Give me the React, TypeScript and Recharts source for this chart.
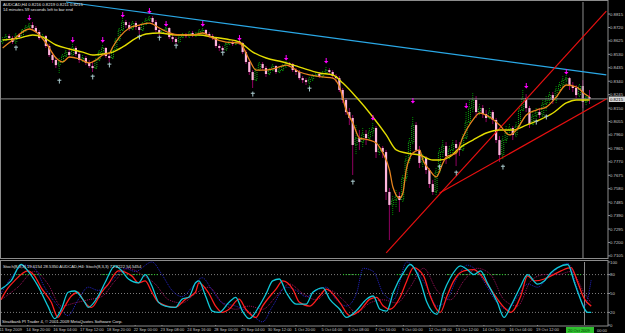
import { ComposedChart, Bar, Line, XAxis, YAxis, ReferenceLine } from "recharts";

const SLOTS = 182;
const FONT = "Liberation Sans, Arial, sans-serif";

// AUDCAD H4 candles, [open, high, low, close] in pips (x 0.0001)
const candles: number[][] = [
  [8617, 8652, 8603, 8631], [8631, 8674, 8624, 8659], [8659, 8674, 8631, 8645], [8645, 8659, 8603, 8617],
  [8617, 8681, 8603, 8667], [8667, 8681, 8638, 8652], [8652, 8709, 8645, 8702], [8702, 8737, 8688, 8723],
  [8723, 8751, 8709, 8737], [8737, 8758, 8702, 8716], [8716, 8730, 8681, 8688], [8688, 8702, 8631, 8645],
  [8645, 8674, 8631, 8659], [8659, 8667, 8575, 8589], [8589, 8603, 8511, 8525], [8525, 8546, 8469, 8490],
  [8490, 8511, 8433, 8454], [8454, 8504, 8391, 8476], [8476, 8532, 8462, 8518], [8518, 8560, 8504, 8546],
  [8546, 8575, 8504, 8525], [8525, 8603, 8518, 8575], [8575, 8589, 8518, 8532], [8532, 8546, 8469, 8490],
  [8490, 8525, 8476, 8504], [8504, 8518, 8454, 8469], [8469, 8490, 8433, 8447], [8447, 8476, 8405, 8433],
  [8433, 8504, 8419, 8490], [8490, 8560, 8476, 8546], [8546, 8596, 8532, 8575], [8575, 8582, 8504, 8518],
  [8518, 8532, 8476, 8504], [8504, 8575, 8490, 8560], [8560, 8645, 8546, 8631], [8631, 8716, 8617, 8702],
  [8702, 8787, 8688, 8758], [8758, 8773, 8716, 8737], [8737, 8758, 8695, 8709], [8709, 8765, 8695, 8751],
  [8751, 8765, 8702, 8723], [8723, 8737, 8674, 8702], [8702, 8758, 8695, 8744], [8744, 8787, 8730, 8773],
  [8773, 8801, 8758, 8787], [8787, 8801, 8744, 8758], [8758, 8773, 8688, 8702], [8702, 8716, 8659, 8681],
  [8681, 8709, 8667, 8702], [8702, 8723, 8688, 8716], [8716, 8723, 8638, 8652], [8652, 8667, 8617, 8638],
  [8638, 8652, 8603, 8617], [8617, 8667, 8610, 8652], [8652, 8681, 8638, 8667], [8667, 8681, 8645, 8659],
  [8659, 8695, 8645, 8681], [8681, 8695, 8652, 8667], [8667, 8688, 8652, 8674], [8674, 8709, 8659, 8695],
  [8695, 8716, 8681, 8702], [8702, 8709, 8659, 8674], [8674, 8688, 8645, 8659], [8659, 8674, 8631, 8645],
  [8645, 8652, 8575, 8589], [8589, 8603, 8553, 8575], [8575, 8589, 8553, 8560], [8560, 8610, 8553, 8603],
  [8603, 8631, 8589, 8617], [8617, 8631, 8589, 8603], [8603, 8631, 8589, 8624], [8624, 8631, 8596, 8610],
  [8610, 8617, 8532, 8546], [8546, 8560, 8462, 8476], [8476, 8490, 8384, 8405], [8405, 8419, 8292, 8348],
  [8348, 8433, 8334, 8419], [8419, 8476, 8405, 8462], [8462, 8476, 8419, 8433], [8433, 8447, 8370, 8391],
  [8391, 8433, 8377, 8419], [8419, 8462, 8405, 8447], [8447, 8454, 8391, 8405], [8405, 8433, 8391, 8419],
  [8419, 8462, 8405, 8447], [8447, 8483, 8433, 8469], [8469, 8476, 8440, 8462], [8462, 8469, 8405, 8419],
  [8419, 8433, 8384, 8405], [8405, 8419, 8348, 8362], [8362, 8377, 8327, 8348], [8348, 8362, 8313, 8334],
  [8334, 8370, 8306, 8355], [8355, 8391, 8341, 8377], [8377, 8405, 8362, 8391], [8391, 8405, 8362, 8377],
  [8377, 8412, 8362, 8398], [8398, 8440, 8384, 8419], [8419, 8433, 8391, 8405], [8405, 8419, 8362, 8377],
  [8377, 8391, 8334, 8362], [8362, 8377, 8264, 8278], [8278, 8292, 8186, 8207], [8207, 8221, 8101, 8122],
  [8122, 8150, 8030, 8080], [8080, 8101, 7677, 7889], [7889, 8030, 7818, 7938], [7938, 7995, 7854, 7910],
  [7910, 8009, 7868, 7967], [7967, 7995, 7889, 7938], [7938, 8009, 7910, 7981], [7981, 8044, 7952, 8009],
  [8009, 8023, 7797, 7839], [7839, 7896, 7811, 7868], [7868, 7882, 7797, 7839], [7839, 7854, 7500, 7557],
  [7557, 7585, 7217, 7465], [7465, 7528, 7394, 7500], [7500, 7571, 7443, 7528], [7528, 7557, 7415, 7500],
  [7500, 7677, 7479, 7656], [7656, 7811, 7627, 7783], [7783, 7938, 7755, 7910], [7910, 8087, 7889, 8030],
  [8030, 8051, 7839, 7854], [7854, 7882, 7726, 7762], [7762, 7825, 7726, 7797], [7797, 7811, 7684, 7712],
  [7712, 7726, 7585, 7613], [7613, 7642, 7536, 7557], [7557, 7726, 7528, 7698], [7698, 7868, 7684, 7839],
  [7839, 7924, 7797, 7882], [7882, 7910, 7755, 7811], [7811, 7882, 7783, 7854], [7854, 7924, 7825, 7896],
  [7896, 7924, 7740, 7868], [7868, 7910, 7811, 7854], [7854, 7967, 7839, 7938], [7938, 8122, 7924, 8051],
  [8051, 8207, 8037, 8150], [8150, 8256, 8122, 8207], [8207, 8235, 8080, 8122], [8122, 8179, 8094, 8150],
  [8150, 8172, 8080, 8108], [8108, 8136, 8051, 8080], [8080, 8150, 8066, 8122], [8122, 8136, 8037, 8066],
  [8066, 8080, 7903, 7924], [7924, 7952, 7769, 7818], [7818, 7952, 7783, 7924], [7924, 8023, 7896, 7995],
  [7995, 8037, 7952, 8009], [8009, 8023, 7924, 7960], [7960, 8051, 7938, 8023], [8023, 8165, 8009, 8136],
  [8136, 8278, 8122, 8221], [8221, 8249, 8122, 8150], [8150, 8165, 8009, 8037], [8037, 8122, 8023, 8094],
  [8094, 8150, 8066, 8122], [8122, 8150, 8080, 8101], [8101, 8207, 8087, 8179], [8179, 8235, 8122, 8207],
  [8207, 8264, 8186, 8242], [8242, 8264, 8179, 8207], [8207, 8306, 8186, 8278], [8278, 8334, 8256, 8313],
  [8313, 8377, 8292, 8348], [8348, 8384, 8320, 8362], [8362, 8370, 8278, 8306], [8306, 8334, 8264, 8292],
  [8292, 8313, 8221, 8242], [8242, 8320, 8221, 8306], [8306, 8348, 8150, 8193], [8193, 8249, 8165, 8228],
  [8228, 8278, 8179, 8215],
];

// moving averages read at sample bars: [bar, pips]
const fastMA = [
  [0, 8575], [3, 8631], [8, 8709], [10, 8688], [13, 8610], [16, 8504], [18, 8476], [20, 8511], [23, 8497],
  [26, 8469], [28, 8490], [30, 8525], [32, 8539], [33, 8582], [35, 8652], [38, 8716], [41, 8737], [44, 8751],
  [47, 8716], [50, 8681], [53, 8667], [57, 8667], [60, 8681], [63, 8645], [67, 8617], [71, 8610], [74, 8490],
  [76, 8419], [79, 8419], [82, 8433], [85, 8454], [89, 8405], [92, 8384], [96, 8370], [99, 8362], [101, 8299],
  [103, 8136], [105, 8044], [107, 7938], [110, 7924], [112, 7903], [114, 7832], [116, 7712], [117, 7592],
  [119, 7514], [120, 7550], [121, 7712], [123, 7832], [125, 7854], [126, 7783], [128, 7712], [130, 7663],
  [132, 7762], [133, 7804], [136, 7832], [138, 7945], [141, 8066], [143, 8115], [146, 8087], [149, 8030],
  [152, 7960], [154, 7995], [157, 8101], [160, 8136], [163, 8157], [166, 8228], [169, 8313], [172, 8299],
  [175, 8242], [176, 8228],
];
const slowMA = [
  [0, 8631], [5, 8645], [9, 8667], [12, 8652], [16, 8596], [20, 8568], [24, 8546], [27, 8525], [30, 8532],
  [33, 8546], [36, 8582], [40, 8645], [43, 8674], [47, 8681], [52, 8667], [59, 8667], [63, 8652], [67, 8638],
  [71, 8617], [75, 8546], [79, 8504], [84, 8476], [89, 8440], [95, 8398], [99, 8384], [102, 8327], [106, 8228],
  [111, 8087], [115, 7960], [118, 7854], [121, 7832], [125, 7818], [129, 7783], [131, 7783], [134, 7804],
  [137, 7868], [141, 7924], [145, 7974], [149, 7995], [153, 7995], [157, 8030], [161, 8066], [165, 8115],
  [169, 8186], [172, 8207], [176, 8207],
];

// fractals: [bar, pips]
const fractalUp = [
  [8, 8780], [21, 8624], [30, 8624], [36, 8801], [44, 8829], [49, 8737], [60, 8737], [71, 8638], [85, 8497],
  [97, 8476], [111, 8073], [123, 8193], [139, 8158], [157, 8299], [169, 8398],
];
const fractalDown = [
  [4, 8575], [17, 8341], [27, 8370], [32, 8455], [41, 8652], [47, 8645], [52, 8589], [66, 8539], [75, 8249],
  [92, 8285], [105, 7627], [131, 7733], [136, 7691], [150, 7733], [160, 8051], [163, 8087],
];

// trend lines: bar / price anchors
const trendLines = [
  { from: [19, 0.89], to: [181, 0.8385], color: "#2aa8e6" },
  { from: [115, 0.7126], to: [181, 0.8836], color: "#e81010" },
  { from: [131, 0.7549], to: [181, 0.8214], color: "#e81010" },
];
const bidPrice = 0.8215;
const cursorBar = 174;

const priceTicks = [
  0.7105, 0.72, 0.7295, 0.739, 0.7485, 0.758, 0.7675, 0.777, 0.7865, 0.796, 0.8055, 0.815, 0.8245, 0.834,
  0.8435, 0.853, 0.8625, 0.872, 0.8815,
];

// stochastic (%K cyan, %D red) and second stochastic (dotted)
const stochK = [
  [0, 57], [3, 70], [6, 96], [8, 86], [11, 62], [14, 30], [16, 10], [18, 25], [20, 52], [22, 54], [25, 36],
  [26, 28], [29, 46], [31, 67], [34, 94], [36, 86], [38, 73], [41, 67], [43, 80], [45, 62], [47, 36], [49, 30],
  [52, 28], [54, 41], [56, 44], [58, 67], [59, 70], [61, 46], [63, 22], [65, 20], [68, 36], [70, 44], [72, 22],
  [74, 10], [77, 30], [79, 49], [81, 70], [83, 73], [85, 52], [88, 33], [91, 33], [93, 52], [96, 59], [98, 41],
  [101, 25], [103, 12], [106, 23], [109, 41], [111, 46], [113, 25], [115, 22], [117, 52], [120, 83], [122, 96],
  [125, 70], [127, 36], [130, 17], [132, 52], [134, 75], [137, 94], [139, 88], [141, 80], [143, 86], [145, 67],
  [148, 36], [150, 12], [152, 30], [155, 62], [157, 80], [160, 65], [162, 70], [164, 83], [166, 91], [169, 96],
  [171, 67], [172, 52], [175, 20], [176, 20],
];
const stochD = [
  [0, 40], [2, 58], [4, 70], [8, 86], [10, 78], [12, 59], [15, 36], [17, 12], [18, 20], [21, 46], [23, 52],
  [24, 44], [26, 30], [27, 28], [30, 52], [32, 65], [35, 86], [39, 78], [41, 67], [43, 70], [45, 52], [47, 36],
  [52, 28], [55, 41], [58, 52], [59, 67], [62, 50], [64, 30], [66, 20], [68, 25], [71, 41], [73, 25], [76, 12],
  [78, 30], [82, 57], [84, 70], [87, 57], [89, 36], [92, 30], [95, 46], [97, 57], [101, 36], [104, 15],
  [107, 23], [110, 41], [112, 44], [114, 30], [116, 25], [119, 44], [121, 70], [123, 91], [126, 78], [128, 46],
  [131, 20], [133, 46], [135, 70], [138, 86], [141, 88], [143, 80], [146, 57], [150, 28], [152, 20], [155, 46],
  [157, 78], [159, 70], [162, 73], [164, 78], [167, 86], [170, 91], [172, 67], [174, 41], [176, 30],
];
const stoch2K = [
  [0, 50], [3, 75], [7, 95], [10, 90], [13, 60], [17, 30], [20, 15], [23, 40], [26, 60], [29, 55], [33, 70],
  [37, 90], [40, 85], [45, 100], [48, 80], [51, 55], [54, 45], [57, 60], [60, 75], [63, 55], [66, 35], [70, 30],
  [74, 20], [78, 5], [81, 30], [85, 60], [88, 55], [91, 45], [94, 55], [97, 60], [100, 40], [103, 30], [106, 50],
  [108, 90], [111, 85], [114, 50], [117, 40], [121, 100], [124, 85], [127, 60], [130, 30], [133, 40], [136, 75],
  [139, 95], [142, 85], [145, 60], [148, 35], [151, 25], [154, 45], [157, 65], [160, 60], [163, 75], [166, 90],
  [169, 98], [172, 55], [174, 30], [176, 72],
];
const stoch2D = [
  [0, 40], [5, 60], [10, 85], [14, 65], [18, 30], [22, 35], [26, 40], [30, 45], [34, 70], [38, 90], [42, 80],
  [46, 65], [50, 40], [54, 35], [58, 50], [62, 60], [66, 35], [70, 25], [74, 30], [78, 25], [82, 45], [86, 65],
  [90, 50], [94, 40], [98, 55], [102, 40], [106, 20], [110, 35], [114, 40], [118, 35], [122, 60], [126, 90],
  [130, 55], [134, 40], [138, 70], [142, 90], [146, 80], [150, 40], [154, 30], [158, 70], [162, 80], [166, 80],
  [170, 85], [174, 50], [176, 35],
];
const overboughtZones = [[5, 12], [30, 47], [102, 108], [118, 123], [133, 151], [169, 173]];
const stochLevels = [20, 50, 80];
const stochTicks = [0, 20, 50, 80, 100];

const timeLabels = [
  "11 Sep 2009", "14 Sep 20:00", "16 Sep 04:00", "17 Sep 12:00", "18 Sep 20:00", "22 Sep 00:00",
  "23 Sep 08:00", "24 Sep 16:00", "28 Sep 00:00", "29 Sep 04:00", "30 Sep 12:00", "1 Oct 20:00",
  "5 Oct 04:00", "6 Oct 08:00", "7 Oct 16:00", "9 Oct 00:00", "12 Oct 08:00", "13 Oct 12:00",
  "14 Oct 20:00", "16 Oct 04:00", "19 Oct 12:00",
];
const timeTicks = timeLabels.map((_, k) => k * 8);
const cursorTime = ["20 Oct 2009", "00:00"];

const rows: any[] = Array.from({ length: SLOTS }, (_, i) => {
  const c = candles[i];
  return {
    i,
    o: c ? c[0] / 1e4 : null,
    h: c ? c[1] / 1e4 : null,
    l: c ? c[2] / 1e4 : null,
    c: c ? c[3] / 1e4 : null,
    range: c ? [c[2] / 1e4, c[1] / 1e4] : null,
    fast: null, slow: null, fUp: null, fDn: null, k: null, d: null, k2: null, d2: null, ob: null,
  };
});
fastMA.forEach(([i, v]) => (rows[i].fast = v / 1e4));
slowMA.forEach(([i, v]) => (rows[i].slow = v / 1e4));
fractalUp.forEach(([i, v]) => (rows[i].fUp = v / 1e4));
fractalDown.forEach(([i, v]) => (rows[i].fDn = v / 1e4));
stochK.forEach(([i, v]) => (rows[i].k = v));
stochD.forEach(([i, v]) => (rows[i].d = v));
stoch2K.forEach(([i, v]) => (rows[i].k2 = v));
stoch2D.forEach(([i, v]) => (rows[i].d2 = v));
overboughtZones.forEach(([a, b]) => {
  for (let i = a; i <= b; i++) rows[i].ob = 80;
});

function Candle(props: any) {
  const { x, y, width, height, payload } = props;
  if (!payload || payload.o == null) return <g />;
  const top = Math.min(y, y + height);
  const hgt = Math.abs(height);
  const k = hgt / (payload.h - payload.l || 1e-9);
  const cx = x + width / 2;
  const yo = top + (payload.h - payload.o) * k;
  const yc = top + (payload.h - payload.c) * k;
  const bt = Math.min(yo, yc);
  const bh = Math.max(Math.abs(yo - yc), 0.8);
  if (payload.c >= payload.o) {
    return (
      <g>
        <line x1={cx} x2={cx} y1={top} y2={top + hgt} stroke="#00b400" strokeWidth={0.8} strokeDasharray="1 1" />
        <rect x={cx - 1} y={bt} width={2} height={bh} fill="#000" stroke="#18d818" strokeWidth={0.8} strokeDasharray="1 1" />
      </g>
    );
  }
  return (
    <g>
      <line x1={cx} x2={cx} y1={top} y2={top + hgt} stroke="#a0006c" strokeWidth={0.9} />
      <rect x={cx - 1.1} y={bt} width={2.2} height={bh} fill="#ffb4dc" />
    </g>
  );
}

const arrowDot = (props: any) => {
  const { cx, cy, index, payload } = props;
  if (!payload || payload.fUp == null || cy == null) return <g key={`u${index}`} />;
  return (
    <g key={`u${index}`}>
      <line x1={cx} x2={cx} y1={cy - 4} y2={cy} stroke="#ff00ff" strokeWidth={1} />
      <path d={`M${cx - 2.2},${cy - 1}L${cx + 2.2},${cy - 1}L${cx},${cy + 1.6}Z`} fill="#ff00ff" />
    </g>
  );
};

const crossDot = (props: any) => {
  const { cx, cy, index, payload } = props;
  if (!payload || payload.fDn == null || cy == null) return <g key={`d${index}`} />;
  return (
    <g key={`d${index}`} stroke="#a8c8cc" strokeWidth={1}>
      <line x1={cx} x2={cx} y1={cy - 2.5} y2={cy + 2.5} />
      <line x1={cx - 2} x2={cx + 2} y1={cy - 0.8} y2={cy - 0.8} />
    </g>
  );
};

const TimeTick = (props: any) => {
  const { x, y, payload } = props;
  const label = timeLabels[timeTicks.indexOf(payload.value)];
  return (
    <text x={x - 1.5} y={y + 5} fontSize={4} fill="#c8c8c8" fontFamily={FONT} textAnchor="start">
      {label}
    </text>
  );
};

export default function App() {
  const axisTick = { fontSize: 4.3, fill: "#c8c8c8", fontFamily: FONT };
  return (
    <div style={{ position: "fixed", left: 0, top: 0, width: 625, height: 333, background: "#000", overflow: "hidden" }}>
      <div style={{ position: "absolute", left: 0, top: 0 }}>
        <ComposedChart width={625} height={260} data={rows} margin={{ top: 2, right: 0, bottom: 2, left: 1 }}>
          <XAxis dataKey="i" type="category" hide />
          <YAxis
            orientation="right"
            width={17}
            domain={[0.709, 0.89]}
            ticks={priceTicks}
            allowDataOverflow
            tickFormatter={(v: number) => v.toFixed(4)}
            tick={axisTick}
            tickSize={2}
            tickMargin={0}
            axisLine={false}
            tickLine={{ stroke: "#909090" }}
          />
          <ReferenceLine y={bidPrice} stroke="#8c8c8c" strokeWidth={1} />
          <ReferenceLine x={cursorBar} stroke="#8c8c8c" strokeWidth={1} />
          {trendLines.map((t, n) => (
            <ReferenceLine
              key={n}
              segment={[{ x: t.from[0], y: t.from[1] }, { x: t.to[0], y: t.to[1] }]}
              stroke={t.color}
              strokeWidth={1.2}
              ifOverflow="visible"
            />
          ))}
          <Bar dataKey="range" shape={Candle} barSize={3} isAnimationActive={false} />
          <Line dataKey="slow" type="monotone" stroke="#e2dc00" strokeWidth={1.4} dot={false} activeDot={false} connectNulls isAnimationActive={false} />
          <Line dataKey="fast" type="monotone" stroke="#e8841e" strokeWidth={1.3} dot={false} activeDot={false} connectNulls isAnimationActive={false} />
          <Line dataKey="fUp" stroke="none" dot={arrowDot} activeDot={false} isAnimationActive={false} />
          <Line dataKey="fDn" stroke="none" dot={crossDot} activeDot={false} isAnimationActive={false} />
        </ComposedChart>
      </div>
      <div style={{ position: "absolute", left: 0, top: 260 }}>
        <ComposedChart width={625} height={73} data={rows} margin={{ top: 2, right: 0, bottom: 0, left: 1 }}>
          <XAxis
            dataKey="i"
            type="category"
            ticks={timeTicks}
            interval={0}
            height={8}
            tick={<TimeTick />}
            tickSize={1}
            tickMargin={0}
            axisLine={false}
            tickLine={{ stroke: "#909090" }}
          />
          <YAxis
            orientation="right"
            width={17}
            domain={[0, 100]}
            ticks={stochTicks}
            tick={axisTick}
            tickSize={2}
            tickMargin={0}
            axisLine={false}
            tickLine={{ stroke: "#909090" }}
          />
          {stochLevels.map((v) => (
            <ReferenceLine key={v} y={v} stroke="#7c7c7c" strokeDasharray="1 2" />
          ))}
          <ReferenceLine x={cursorBar} stroke="#8c8c8c" strokeWidth={1} />
          <Line dataKey="ob" stroke="#20d020" strokeWidth={1} strokeDasharray="1 1.5" dot={false} activeDot={false} isAnimationActive={false} />
          <Line dataKey="d2" type="monotone" stroke="#a0105a" strokeWidth={1} strokeDasharray="1 1" dot={false} activeDot={false} connectNulls isAnimationActive={false} />
          <Line dataKey="k2" type="monotone" stroke="#2424c8" strokeWidth={1} strokeDasharray="1 1" dot={false} activeDot={false} connectNulls isAnimationActive={false} />
          <Line dataKey="d" type="monotone" stroke="#ff1e1e" strokeWidth={1.3} dot={false} activeDot={false} connectNulls isAnimationActive={false} />
          <Line dataKey="k" type="monotone" stroke="#10c8d8" strokeWidth={1.3} dot={false} activeDot={false} connectNulls isAnimationActive={false} />
        </ComposedChart>
      </div>
      <svg width={625} height={333} style={{ position: "absolute", left: 0, top: 0, pointerEvents: "none" }} fontFamily={FONT}>
        <rect x={0.5} y={0.5} width={607.5} height={258} fill="none" stroke="#8c8c8c" />
        <rect x={0.5} y={260.5} width={607.5} height={65.5} fill="none" stroke="#8c8c8c" />
        <text x={3} y={6} fontSize={4.2} fill="#e0e0e0">AUDCAD,H4  0.8216 0.8219 0.8211 0.8215</text>
        <text x={3} y={10.5} fontSize={4.2} fill="#e0e0e0">14 minutes 59 seconds left to bar end</text>
        <text x={3} y={267.5} fontSize={4.2} fill="#e0e0e0">Stoch(8,3,3) 19.6154 28.5350  AUDCAD,H4: Stoch(8,3,3) 72.2222 54.5454</text>
        <text x={2} y={323} fontSize={4.2} fill="#e0e0e0">Straitbank PI Trader 4, © 2001-2009 MetaQuotes Software Corp.</text>
        <rect x={609} y={96.5} width={16} height={5.5} fill="#d8d8d8" />
        <text x={610} y={100.8} fontSize={4.3} fill="#000">0.8215</text>
        <rect x={566} y={327} width={28} height={6} fill="#2fc02f" />
        <text x={568} y={331.6} fontSize={4} fill="#003a00">{cursorTime[0]}</text>
        <text x={597} y={331.6} fontSize={4} fill="#c8c8c8">{cursorTime[1]}</text>
      </svg>
    </div>
  );
}
